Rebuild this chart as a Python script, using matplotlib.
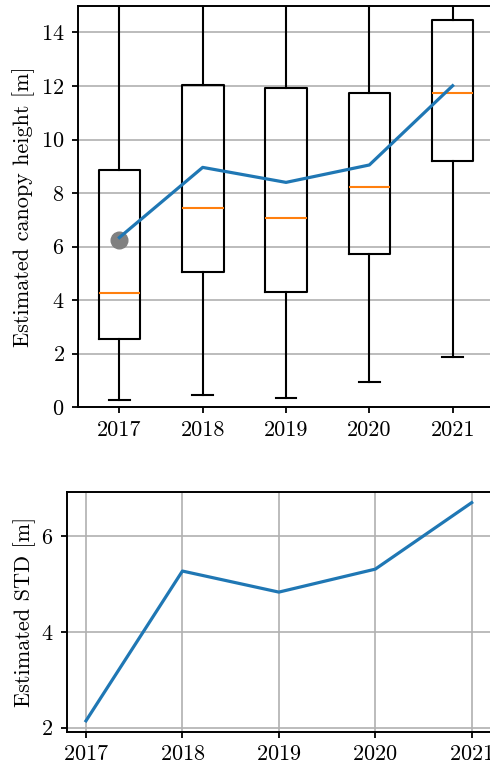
import numpy as np
import matplotlib
matplotlib.use("Agg")
import matplotlib.pyplot as plt

plt.rcParams['font.family'] = 'cmr10'
plt.rcParams['mathtext.fontset'] = 'cm'
plt.rcParams['axes.formatter.use_mathtext'] = True
plt.rcParams['font.size'] = 16
plt.rcParams['xtick.major.size'] = 4.5
plt.rcParams['ytick.major.size'] = 4.5
plt.rcParams['xtick.major.width'] = 1.3
plt.rcParams['ytick.major.width'] = 1.3
plt.rcParams['xtick.major.pad'] = 5
plt.rcParams['ytick.major.pad'] = 5

# yearly canopy height statistics
years = [2017, 2018, 2019, 2020, 2021]
q1 = [2.54, 5.04, 4.29, 5.72, 9.18]
median = [4.27, 7.44, 7.06, 8.21, 11.72]
q3 = [8.87, 12.03, 11.93, 11.73, 14.48]
whis_lo = [0.28, 0.45, 0.35, 0.93, 1.88]
whis_hi = [17.5, 21.0, 21.5, 21.0, 22.5]
mean_height = [6.34, 8.96, 8.40, 9.05, 12.01]
reference_2017 = 6.25

# estimated standard deviation per year
std_est = [2.14, 5.27, 4.83, 5.31, 6.70]

fig = plt.figure(figsize=(4.9, 7.67), dpi=100)
ax1 = fig.add_axes([0.1586, 0.469, 0.8502, 0.5236])
ax2 = fig.add_axes([0.1361, 0.046, 0.8659, 0.3129])

stats = []
for i, yr in enumerate(years):
    stats.append(dict(med=median[i], q1=q1[i], q3=q3[i],
                      whislo=whis_lo[i], whishi=whis_hi[i],
                      fliers=[], label=str(yr)))

pos = np.arange(1, len(years) + 1)
ax1.bxp(stats, positions=pos, widths=0.5, showfliers=False,
        boxprops=dict(color='black', linewidth=1.5),
        whiskerprops=dict(color='black', linewidth=1.5),
        capprops=dict(color='black', linewidth=1.5),
        medianprops=dict(color='#ff7f0e', linewidth=1.5))
ax1.plot(pos[0], reference_2017, 'o', color='gray', markersize=12, zorder=3)
ax1.plot(pos, mean_height, color='#1f77b4', linewidth=2.3, zorder=4)
ax1.set_xlim(0.5, 5.5)
ax1.set_ylim(0, 15)
ax1.set_yticks(np.arange(0, 15, 2))
ax1.set_xticks(pos)
ax1.set_xticklabels([str(y) for y in years])
ax1.yaxis.grid(True, color='#b0b0b0', linewidth=1.2)
ax1.set_axisbelow(True)
ax1.set_ylabel('Estimated canopy height [m]')
for s in ax1.spines.values():
    s.set_linewidth(1.4)

ax2.plot(years, std_est, color='#1f77b4', linewidth=2.3)
ax2.set_xticks(years)
ax2.set_yticks([2, 4, 6])
ax2.grid(True, color='#b0b0b0', linewidth=1.2)
ax2.set_axisbelow(True)
ax2.set_ylabel('Estimated STD [m]')
for s in ax2.spines.values():
    s.set_linewidth(1.4)

fig.savefig('out.png', dpi=100)
